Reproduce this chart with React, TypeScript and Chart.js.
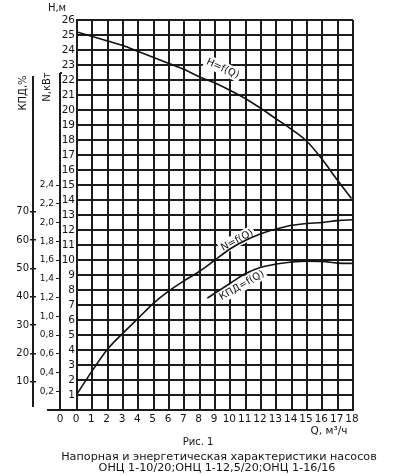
import React, { useEffect, useRef } from 'react';
import { Chart, registerables } from 'chart.js';

Chart.register(...registerables);

// Head H (m) vs flow Q (m³/h)
const H_Q = [0, 1, 2, 3, 4, 5, 6, 7, 8, 9, 10, 11, 12, 13, 14, 15, 16, 17, 17.9];
const H_VALUES = [25.2, 24.9, 24.6, 24.3, 23.9, 23.5, 23.1, 22.7, 22.2, 21.8, 21.3, 20.75, 20.1, 19.4, 18.7, 17.9, 16.7, 15.3, 14.1];

// Power N (kW) vs Q
const N_Q = [0, 1, 2, 3, 4, 5, 6, 7, 8, 9, 10, 11, 12, 13, 14, 15, 16, 17, 18];
const N_VALUES = [0.17, 0.42, 0.65, 0.82, 0.98, 1.14, 1.27, 1.38, 1.48, 1.6, 1.72, 1.81, 1.88, 1.93, 1.97, 1.99, 2.0, 2.02, 2.03];

// Efficiency КПД (%) vs Q
const KPD_Q = [8.5, 9, 10, 11, 12, 13, 14, 15, 16, 17, 18];
const KPD_VALUES = [39.5, 41.3, 44.8, 48.2, 50.4, 51.6, 52.3, 52.6, 52.5, 51.9, 51.8];

// Axis ranges and tick labels
const Q_MAX = 18;
const H_MAX = 26;
const N_MAX = 4.16;
const KPD_MAX = 137.8;
const N_TICKS = [0.2, 0.4, 0.6, 0.8, 1.0, 1.2, 1.4, 1.6, 1.8, 2.0, 2.2, 2.4];
const KPD_TICKS = [10, 20, 30, 40, 50, 60, 70];

const TXT = '#141414';
const GRID = '#1c1c1c';
const FONT = '"DejaVu Sans", sans-serif';

const fmtComma = (v: number) => v.toFixed(1).replace('.', ',');

export default function App() {
  const ref = useRef<HTMLCanvasElement | null>(null);

  useEffect(() => {
    document.body.style.margin = '0';
    const canvas = ref.current;
    if (!canvas) return;

    const drawLabel = (ctx: CanvasRenderingContext2D, x: number, y: number, ang: number, text: string) => {
      ctx.save();
      ctx.translate(x, y);
      ctx.rotate((ang * Math.PI) / 180);
      ctx.font = `10px ${FONT}`;
      const w = ctx.measureText(text).width;
      ctx.fillStyle = '#fff';
      ctx.fillRect(-w / 2 - 2, -7, w + 4, 13);
      ctx.fillStyle = TXT;
      ctx.textAlign = 'center';
      ctx.textBaseline = 'middle';
      ctx.fillText(text, 0, 0);
      ctx.restore();
    };

    const decor = {
      id: 'decor',
      beforeDatasetsDraw(chart: any) {
        const ctx = chart.ctx as CanvasRenderingContext2D;
        const x = chart.scales.x;
        const yH = chart.scales.yH;
        drawLabel(ctx, x.getPixelForValue(9.5), yH.getPixelForValue(22.75), 25, 'H=f(Q)');
        drawLabel(ctx, x.getPixelForValue(10.45), yH.getPixelForValue(11.3), -28, 'N=f(Q)');
        drawLabel(ctx, x.getPixelForValue(10.75), yH.getPixelForValue(8.3), -30, 'КПД=f(Q)');
      },
      afterDraw(chart: any) {
        const ctx = chart.ctx as CanvasRenderingContext2D;
        const area = chart.chartArea;
        const yK = chart.scales.yK;
        const yN = chart.scales.yN;
        ctx.save();
        ctx.strokeStyle = GRID;
        ctx.lineWidth = 2;
        const kx = yK.right - 3;
        ctx.beginPath();
        ctx.moveTo(kx, 76);
        ctx.lineTo(kx, area.bottom - 3);
        ctx.stroke();
        const nx = yN.right;
        ctx.beginPath();
        ctx.moveTo(nx, 73);
        ctx.lineTo(nx, area.bottom + 1);
        ctx.stroke();
        ctx.beginPath();
        ctx.moveTo(nx, 73);
        ctx.lineTo(nx + 2, 73);
        ctx.stroke();
        ctx.beginPath();
        ctx.moveTo(47, area.bottom);
        ctx.lineTo(area.left, area.bottom);
        ctx.stroke();

        ctx.fillStyle = TXT;
        ctx.textBaseline = 'middle';
        ctx.textAlign = 'center';
        ctx.font = `10.5px ${FONT}`;
        ctx.fillText('0', nx, area.bottom + 9);
        ctx.font = `10px ${FONT}`;
        ctx.fillText('Н,м', 57, 8);
        ctx.font = `10.5px ${FONT}`;
        ctx.fillText('Q, м³/ч', 329, 431);
        ctx.font = `10px ${FONT}`;
        ctx.fillText('Рис. 1', 198, 442);
        ctx.font = `11.2px ${FONT}`;
        ctx.fillText('Напорная и энергетическая характеристики насосов', 219, 457);
        ctx.fillText('ОНЦ 1-10/20;ОНЦ 1-12,5/20;ОНЦ 1-16/16', 217, 468);

        ctx.font = `10px ${FONT}`;
        ctx.save();
        ctx.translate(23, 93);
        ctx.rotate(-Math.PI / 2);
        ctx.fillText('КПД,%', 0, 0);
        ctx.restore();
        ctx.save();
        ctx.translate(47, 87);
        ctx.rotate(-Math.PI / 2);
        ctx.fillText('N,кВт', 0, 0);
        ctx.restore();
        ctx.restore();
      },
    };

    const lineDs = (qs: number[], vs: number[], axis: string) => ({
      data: qs.map((q, i) => ({ x: q, y: vs[i] })),
      yAxisID: axis,
      borderColor: '#111',
      borderWidth: 1.6,
      pointRadius: 0,
      fill: false,
      cubicInterpolationMode: 'monotone' as const,
    });

    const chart = new Chart(canvas, {
      type: 'line',
      data: {
        datasets: [
          lineDs(H_Q, H_VALUES, 'yH'),
          lineDs(N_Q, N_VALUES, 'yN'),
          lineDs(KPD_Q, KPD_VALUES, 'yK'),
        ] as any,
      },
      options: {
        animation: false,
        responsive: false,
        devicePixelRatio: 1,
        layout: { padding: { top: 20, right: 43, bottom: 0, left: 0 } },
        plugins: { legend: { display: false }, tooltip: { enabled: false } },
        scales: {
          x: {
            type: 'linear',
            position: 'bottom',
            min: 0,
            max: Q_MAX,
            ticks: {
              stepSize: 1,
              autoSkip: false,
              minRotation: 0,
              maxRotation: 0,
              padding: 3,
              labelOffset: -1,
              color: TXT,
              font: { family: FONT, size: 10.5 },
              callback: (v: any) => String(v),
            },
            grid: { color: GRID, lineWidth: 2, drawTicks: false },
            border: { display: true, color: GRID, width: 2 },
            afterFit: (s: any) => { s.height = 65; },
          },
          yH: {
            type: 'linear',
            position: 'left',
            weight: 1,
            min: 0,
            max: H_MAX,
            ticks: {
              stepSize: 1,
              autoSkip: false,
              padding: 2,
              color: TXT,
              font: { family: FONT, size: 10.5 },
              callback: (v: any) => (v === 0 ? '' : String(v)),
            },
            grid: { color: GRID, lineWidth: 2, drawTicks: false },
            border: { display: true, color: GRID, width: 2 },
            afterFit: (s: any) => { s.width = 17; },
          },
          yN: {
            type: 'linear',
            position: 'left',
            weight: 2,
            min: 0,
            max: N_MAX,
            afterBuildTicks: (s: any) => { s.ticks = N_TICKS.map((v) => ({ value: v })); },
            ticks: {
              autoSkip: false,
              padding: 2,
              color: TXT,
              font: { family: FONT, size: 9 },
              callback: (v: any) => fmtComma(Number(v)),
            },
            grid: { drawOnChartArea: false, drawTicks: true, tickLength: 4, color: GRID, lineWidth: 1 },
            border: { display: false },
            afterFit: (s: any) => { s.width = 24; },
          },
          yK: {
            type: 'linear',
            position: 'left',
            weight: 3,
            min: 0,
            max: KPD_MAX,
            afterBuildTicks: (s: any) => { s.ticks = KPD_TICKS.map((v) => ({ value: v })); },
            ticks: {
              autoSkip: false,
              padding: 1,
              color: TXT,
              font: { family: FONT, size: 10 },
              callback: (v: any) => String(v),
            },
            grid: { drawOnChartArea: false, drawTicks: true, tickLength: 6, color: GRID, lineWidth: 1.5 },
            border: { display: false },
            afterFit: (s: any) => { s.width = 36; },
          },
        },
      },
      plugins: [decor],
    });

    return () => chart.destroy();
  }, []);

  return (
    <div style={{ position: 'fixed', left: 0, top: 0, width: 396, height: 475, background: '#fff' }}>
      <canvas ref={ref} width={396} height={475} style={{ display: 'block' }} />
    </div>
  );
}
